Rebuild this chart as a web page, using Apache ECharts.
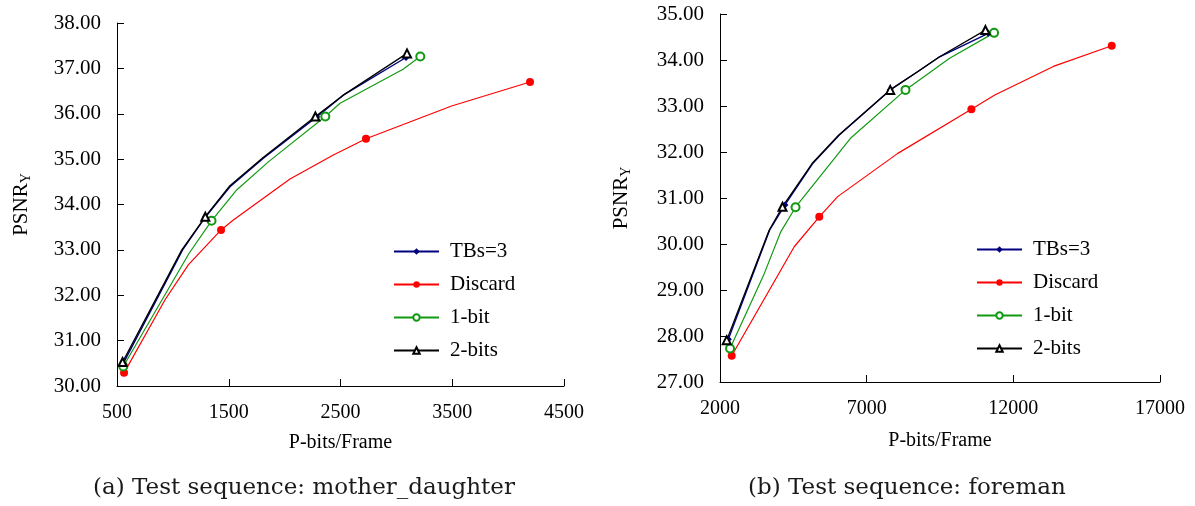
<!DOCTYPE html>
<html>
<head>
<meta charset="utf-8">
<script src="https://cdn.jsdelivr.net/npm/echarts@6/dist/echarts.min.js"></script>
<style>
  html, body { margin: 0; padding: 0; background: #fff; }
  #main { width: 1195px; height: 506px; }
</style>
</head>
<body>
<div id="main"></div>
<script>
// 图例名称
var names = ['TBs=3', 'Discard', '1-bit', '2-bits'];

// (a) mother_daughter
var mdTbsX = [556, 1087, 1290, 1511, 1810, 2287, 2525, 3086];
var mdTbsY = [30.50, 33.00, 33.72, 34.39, 35.02, 35.93, 36.41, 37.24];
var mdTbsKey = [0, 2, 5, 7];
var mdDisX = [563, 930, 1138, 1431, 1541, 2048, 2436, 2728, 3494, 4196];
var mdDisY = [30.29, 31.90, 32.67, 33.44, 33.66, 34.56, 35.09, 35.45, 36.17, 36.70];
var mdDisKey = [0, 3, 7, 9];
var md1bX = [556, 1144, 1346, 1571, 1854, 2364, 2496, 3060, 3214];
var md1bY = [30.43, 32.92, 33.64, 34.32, 34.94, 35.94, 36.23, 36.98, 37.26];
var md1bKey = [0, 2, 5, 8];
var md2bX = [550, 1080, 1290, 1505, 1805, 2275, 2525, 3095];
var md2bY = [30.53, 33.00, 33.73, 34.40, 35.03, 35.94, 36.41, 37.33];
var md2bKey = [0, 2, 5, 7];

// (b) foreman
var fmTbsX = [2284, 3690, 4213, 5159, 6068, 7803, 8748, 9486, 11145];
var fmTbsY = [27.93, 30.30, 30.85, 31.75, 32.37, 33.35, 33.75, 34.07, 34.58];
var fmTbsKey = [0, 2, 5, 8];
var fmDisX = [2399, 4530, 5384, 6011, 8061, 10570, 11367, 13364, 15355];
var fmDisY = [27.57, 29.94, 30.59, 31.03, 31.97, 32.93, 33.24, 33.86, 34.31];
var fmDisKey = [0, 2, 5, 8];
var fm1bX = [2342, 3504, 4075, 4575, 6468, 8324, 9828, 11343];
var fm1bY = [27.73, 29.35, 30.27, 30.80, 32.31, 33.35, 34.04, 34.59];
var fm1bKey = [0, 3, 5, 7];
var fm2bX = [2229, 3675, 4131, 5140, 6050, 7803, 8748, 9486, 11050];
var fm2bY = [27.91, 30.30, 30.81, 31.75, 32.37, 33.35, 33.75, 34.07, 34.65];
var fm2bKey = [0, 2, 5, 8];

var serif = 'Liberation Serif';

// 只在测量点上画标记
function pts(xs, ys, keys) {
    return xs.map(function (x, i) {
        if (keys.indexOf(i) >= 0) return [x, ys[i]];
        return { value: [x, ys[i]], symbol: 'none' };
    });
}

var styles = [
    { symbol: 'diamond', size: 7, color: '#000080', width: 1.4 },
    { symbol: 'circle', size: 8, color: '#ff0000', width: 1.2 },
    { symbol: 'emptyCircle', size: 8, color: '#119911', width: 1.2 },
    { symbol: 'emptyTriangle', size: 8, color: '#000000', width: 1.3 }
];

function makeSeries(idx, datas) {
    return datas.map(function (d, k) {
        var s = styles[k];
        return {
            name: names[k],
            type: 'line',
            xAxisIndex: idx,
            yAxisIndex: idx,
            data: d,
            symbol: s.symbol,
            symbolSize: s.size,
            showAllSymbol: true,
            animation: false,
            itemStyle: { color: s.color, borderWidth: 1.2 },
            lineStyle: { color: s.color, width: s.width }
        };
    });
}

function xAxisOpt(idx, min, max, step, gap) {
    return {
        gridIndex: idx, type: 'value', min: min, max: max, interval: step,
        name: 'P-bits/Frame', nameLocation: 'middle', nameGap: gap,
        nameTextStyle: { fontFamily: serif, fontSize: 20, color: '#000' },
        axisLine: { lineStyle: { color: '#000', width: 1 } },
        axisTick: { inside: true, length: 7, lineStyle: { color: '#000' } },
        axisLabel: {
            fontFamily: serif, fontSize: 20, color: '#000', margin: 17,
            formatter: function (v) { return String(v); }
        },
        splitLine: { show: false }
    };
}

function yAxisOpt(idx, min, max, gap) {
    return {
        gridIndex: idx, type: 'value', min: min, max: max, interval: 1,
        name: '{a|PSNR}{b|Y}', nameLocation: 'middle', nameGap: gap, nameRotate: 90,
        nameTextStyle: {
            rich: {
                a: { fontFamily: serif, fontSize: 21, color: '#000' },
                b: { fontFamily: serif, fontSize: 14, color: '#000', verticalAlign: 'bottom', padding: [10, 0, 0, 0] }
            }
        },
        axisLine: { lineStyle: { color: '#000', width: 1 } },
        axisTick: { inside: true, length: 7, lineStyle: { color: '#000' } },
        axisLabel: {
            fontFamily: serif, fontSize: 21, color: '#000', margin: 16,
            formatter: function (v) { return v.toFixed(2); }
        },
        splitLine: { show: false }
    };
}

function legendOpt(left, top) {
    return {
        data: names, orient: 'vertical', left: left, top: top,
        itemWidth: 45, itemHeight: 8, itemGap: 12,
        selectedMode: false,
        textStyle: { fontFamily: serif, fontSize: 21, color: '#000', lineHeight: 21, padding: [0, 0, 0, 6] }
    };
}

var myChart = echarts.init(document.getElementById('main'));
var option = {
    backgroundColor: '#fff',
    animation: false,
    grid: [
        { left: 117, top: 23, width: 447, height: 363 },
        { left: 720, top: 14, width: 440, height: 368 }
    ],
    xAxis: [
        xAxisOpt(0, 500, 4500, 1000, 47),
        xAxisOpt(1, 2000, 17000, 5000, 49)
    ],
    yAxis: [
        yAxisOpt(0, 30, 38, 84),
        yAxisOpt(1, 27, 35, 87)
    ],
    legend: [
        legendOpt(388, 236),
        legendOpt(971, 234)
    ],
    graphic: [
        {
            type: 'text', left: 93, top: 477,
            style: { text: '(a) Test sequence: mother_daughter', font: '23px "DejaVu Serif"', fill: '#1a1a1a' }
        },
        {
            type: 'text', left: 748, top: 477,
            style: { text: '(b) Test sequence: foreman', font: '23px "DejaVu Serif"', fill: '#1a1a1a' }
        }
    ],
    series: [].concat(
        makeSeries(0, [
            pts(mdTbsX, mdTbsY, mdTbsKey),
            pts(mdDisX, mdDisY, mdDisKey),
            pts(md1bX, md1bY, md1bKey),
            pts(md2bX, md2bY, md2bKey)
        ]),
        makeSeries(1, [
            pts(fmTbsX, fmTbsY, fmTbsKey),
            pts(fmDisX, fmDisY, fmDisKey),
            pts(fm1bX, fm1bY, fm1bKey),
            pts(fm2bX, fm2bY, fm2bKey)
        ])
    )
};
myChart.setOption(option, true);
</script>
</body>
</html>
